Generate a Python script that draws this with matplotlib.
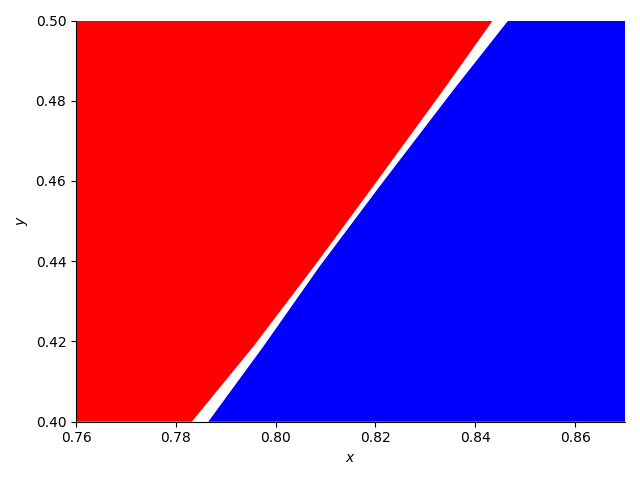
import matplotlib
matplotlib.use("Agg")
import matplotlib.pyplot as plt

# boundary of the red region (bottom to top)
red_edge_x = [0.7832, 0.7955, 0.8077, 0.8195, 0.8335, 0.8435]
red_edge_y = [0.400, 0.4187, 0.4387, 0.4586, 0.4825, 0.500]

# boundary of the blue region
blue_edge_x = [0.7865, 0.7975, 0.8088, 0.8208, 0.8355, 0.8466]
blue_edge_y = [0.400, 0.4187, 0.4387, 0.4586, 0.4825, 0.500]

x_min, x_max = 0.76, 0.87
y_min, y_max = 0.40, 0.50

fig, ax = plt.subplots(figsize=(6.4, 4.8), dpi=100)

# red: from left edge to its boundary
rx = [x_min - 0.01] + red_edge_x + [x_min - 0.01]
ry = [y_min] + red_edge_y + [y_max]
ax.fill(rx, ry, color='red', lw=0)

# blue: from its boundary to the right edge
bx = blue_edge_x + [x_max + 0.01, x_max + 0.01]
by = blue_edge_y + [y_max, y_min]
ax.fill(bx, by, color='blue', lw=0)

ax.set_xlim(x_min, x_max)
ax.set_ylim(y_min, y_max)
ax.spines['top'].set_visible(False)
ax.spines['right'].set_visible(False)
ax.set_xlabel('$x$')
ax.set_ylabel('$y$')
fig.tight_layout()
fig.savefig('out.png')
